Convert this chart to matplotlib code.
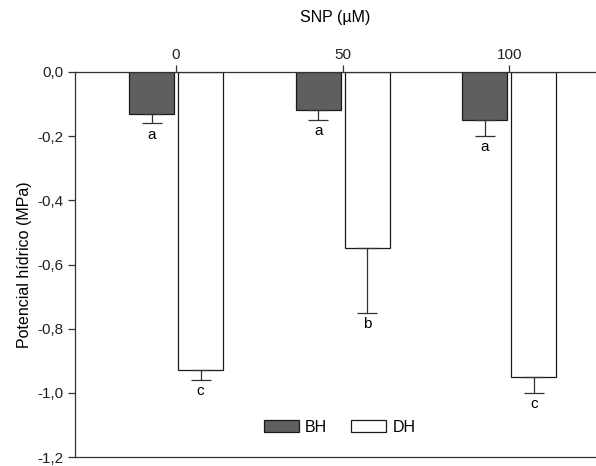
import matplotlib.pyplot as plt
import numpy as np

plt.rcParams['font.family'] = ['Liberation Sans', 'DejaVu Sans']

# SNP doses and water potential means / SE
doses = [0, 50, 100]
dose_labels = ['0', '50', '100']
bh = [-0.13, -0.12, -0.15]
bh_err = [0.03, 0.03, 0.05]
dh = [-0.93, -0.55, -0.95]
dh_err = [0.03, 0.20, 0.05]
bh_letters = ['a', 'a', 'a']
dh_letters = ['c', 'b', 'c']

x = np.array(doses, dtype=float)
w = 13.5
gap = 0.6

fig = plt.figure(figsize=(5.96, 4.66), dpi=100)
ax = fig.add_axes([0.126, 0.0193, 0.874, 0.8262])

b1 = ax.bar(x - gap - w / 2, bh, w, color='#5f5f5f', edgecolor='#1a1a1a',
            linewidth=0.9, label='BH')
b2 = ax.bar(x + gap + w / 2, dh, w, color='white', edgecolor='#1a1a1a',
            linewidth=0.9, label='DH')

# one-sided (downward) error bars
ax.errorbar(x - gap - w / 2, bh, yerr=[bh_err, [0] * 3], fmt='none',
            ecolor='#333333', elinewidth=0.9, capsize=7, capthick=0.9)
ax.errorbar(x + gap + w / 2, dh, yerr=[dh_err, [0] * 3], fmt='none',
            ecolor='#333333', elinewidth=0.9, capsize=7, capthick=0.9)

for xi, v, e, t in zip(x - gap - w / 2, bh, bh_err, bh_letters):
    ax.text(xi, v - e - 0.013, t, ha='center', va='top', fontsize=11)
for xi, v, e, t in zip(x + gap + w / 2, dh, dh_err, dh_letters):
    ax.text(xi, v - e - 0.013, t, ha='center', va='top', fontsize=11)

ax.set_xlim(-30.3, 126)
ax.set_ylim(-1.2, 0.0)

ax.xaxis.tick_top()
ax.xaxis.set_label_position('top')
ax.set_xticks(x)
ax.set_xticklabels(dose_labels)
ax.set_xlabel('SNP (µM)', fontsize=11.5, labelpad=19)

yt = np.arange(-1.2, 0.01, 0.2)
ax.set_yticks(yt)
ax.set_yticklabels([f'{v:.1f}'.replace('.', ',').replace('-0,0', '0,0') for v in yt])
ax.set_ylabel('Potencial hídrico (MPa)', fontsize=11.5, labelpad=4)

ax.tick_params(axis='both', direction='out', length=5, width=0.9,
               color='#333333', labelsize=11, labelcolor='#222222', pad=3)
ax.tick_params(axis='x', pad=2)

ax.spines['right'].set_visible(False)
for s in ['left', 'top', 'bottom']:
    ax.spines[s].set_color('#333333')
    ax.spines[s].set_linewidth(0.9)

ax.legend(handles=[b1, b2], loc='lower center', bbox_to_anchor=(0.508, 0.02),
          ncol=2, frameon=False, fontsize=11.5, handlelength=2.2,
          handleheight=0.8, columnspacing=1.5, handletextpad=0.4)

fig.savefig('out.png', dpi=100)
